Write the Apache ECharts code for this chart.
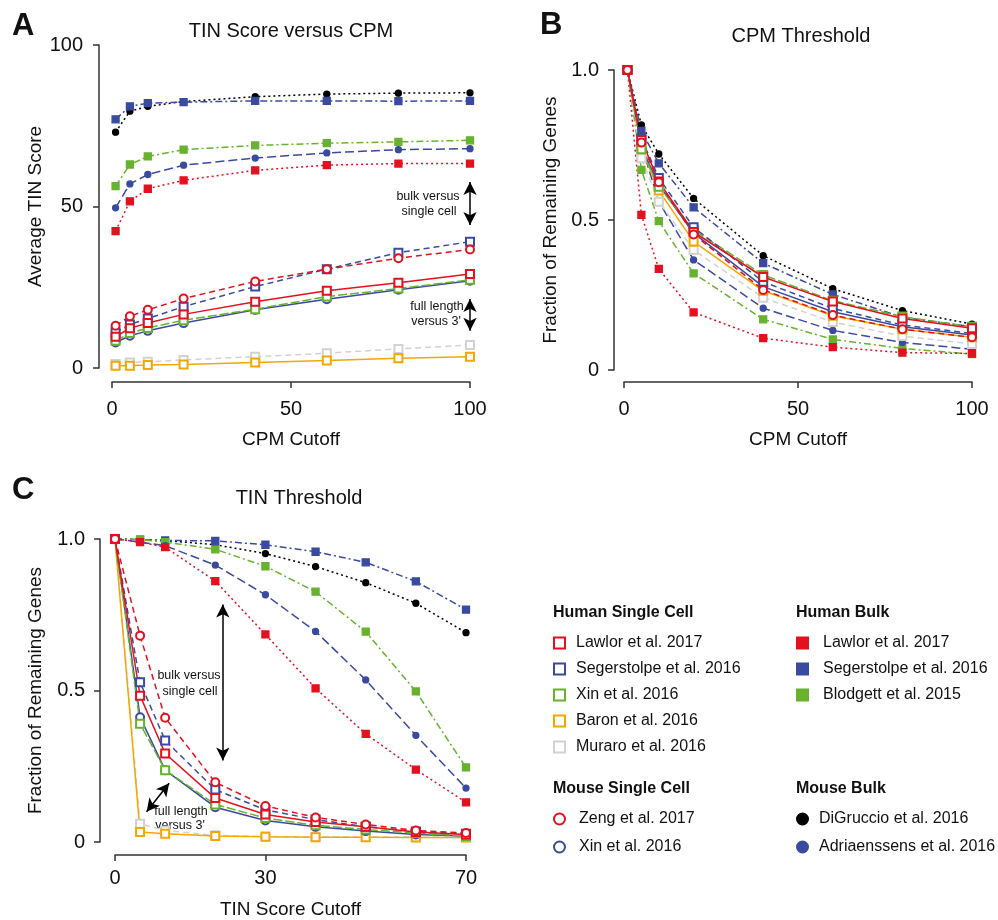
<!DOCTYPE html>
<html><head><meta charset="utf-8">
<script src="https://cdn.jsdelivr.net/npm/echarts@6/dist/echarts.min.js"></script>
<style>html,body{margin:0;padding:0;background:#fff}#chart{width:998px;height:920px}</style>
</head><body><div id="chart"></div>
<script>
// ---------- cutoffs (x values) ----------
const cpmCutoffs = [1, 5, 10, 20, 40, 60, 80, 100];
const tinCutoffs = [0, 5, 10, 20, 30, 40, 50, 60, 70];
const tinTickLabels = [0, 30, 70];

// ---------- Panel A: average TIN score vs CPM cutoff ----------
const avgTinLawlorSC        = [9.7, 12.3, 13.9, 16.6, 20.5, 23.9, 26.4, 29.1];
const avgTinSegerstolpeSC   = [11, 13.5, 15.3, 19, 25.2, 30.6, 35.7, 39.1];
const avgTinXinHumanSC      = [8.4, 10.8, 12.4, 14.8, 18.2, 22.1, 24.6, 27.3];
const avgTinBaronSC         = [0.7, 0.7, 0.9, 1.1, 1.7, 2.3, 3, 3.5];
const avgTinMuraroSC        = [1.2, 1.7, 1.9, 2.5, 3.5, 4.6, 5.9, 7.1];
const avgTinZengSC          = [13.1, 16, 18, 21.5, 26.8, 30.6, 34, 36.7];
const avgTinXinMouseSC      = [7.9, 10, 11.5, 13.9, 18, 21.3, 24.2, 27];
const avgTinLawlorBulk      = [42.4, 51.6, 55.5, 58.1, 61.2, 62.8, 63.3, 63.3];
const avgTinSegerstolpeBulk = [77, 81, 82, 82.3, 82.7, 82.7, 82.6, 82.7];
const avgTinBlodgettBulk    = [56.3, 63, 65.5, 67.6, 68.9, 69.6, 70, 70.5];
const avgTinDiGruccioBulk   = [73, 79.5, 81, 82.5, 84, 84.8, 85.1, 85.2];
const avgTinAdriaenssensBulk= [49.6, 57, 59.9, 62.8, 65, 66.6, 67.6, 67.9];

// ---------- Panel B: fraction of remaining genes vs CPM cutoff ----------
const cpmFracLawlorSC        = [1, 0.767, 0.628, 0.46, 0.31, 0.228, 0.172, 0.139];
const cpmFracSegerstolpeSC   = [1, 0.772, 0.64, 0.476, 0.294, 0.205, 0.15, 0.122];
const cpmFracXinHumanSC      = [1, 0.736, 0.611, 0.467, 0.317, 0.231, 0.178, 0.144];
const cpmFracBaronSC         = [1, 0.739, 0.598, 0.428, 0.264, 0.181, 0.136, 0.109];
const cpmFracMuraroSC        = [1, 0.706, 0.561, 0.4, 0.241, 0.16, 0.113, 0.087];
const cpmFracZengSC          = [1, 0.758, 0.626, 0.452, 0.267, 0.183, 0.136, 0.109];
const cpmFracXinMouseSC      = [1, 0.742, 0.617, 0.456, 0.278, 0.194, 0.144, 0.117];
const cpmFracLawlorBulk      = [1, 0.517, 0.337, 0.192, 0.106, 0.076, 0.058, 0.055];
const cpmFracSegerstolpeBulk = [1, 0.797, 0.689, 0.542, 0.356, 0.252, 0.176, 0.144];
const cpmFracBlodgettBulk    = [1, 0.667, 0.496, 0.322, 0.169, 0.102, 0.072, 0.053];
const cpmFracDiGruccioBulk   = [1, 0.817, 0.72, 0.572, 0.381, 0.271, 0.198, 0.153];
const cpmFracAdriaenssensBulk= [1, 0.75, 0.561, 0.367, 0.206, 0.132, 0.092, 0.069];

// ---------- Panel C: fraction of remaining genes vs TIN cutoff ----------
const tinFracLawlorSC        = [1, 0.483, 0.292, 0.145, 0.091, 0.066, 0.05, 0.033, 0.025];
const tinFracSegerstolpeSC   = [1, 0.527, 0.335, 0.173, 0.106, 0.074, 0.05, 0.035, 0.027];
const tinFracXinHumanSC      = [1, 0.39, 0.237, 0.124, 0.079, 0.055, 0.041, 0.03, 0.02];
const tinFracBaronSC         = [1, 0.033, 0.027, 0.02, 0.017, 0.016, 0.016, 0.015, 0.015];
const tinFracMuraroSC        = [1, 0.06, 0.038, 0.022, 0.018, 0.017, 0.017, 0.016, 0.016];
const tinFracZengSC          = [1, 0.681, 0.41, 0.197, 0.119, 0.081, 0.058, 0.038, 0.03];
const tinFracXinMouseSC      = [1, 0.412, 0.237, 0.115, 0.071, 0.05, 0.036, 0.025, 0.02];
const tinFracLawlorBulk      = [1, 0.99, 0.973, 0.861, 0.685, 0.507, 0.357, 0.239, 0.131];
const tinFracSegerstolpeBulk = [1, 0.998, 0.995, 0.994, 0.981, 0.958, 0.923, 0.86, 0.767];
const tinFracBlodgettBulk    = [1, 0.998, 0.99, 0.966, 0.91, 0.826, 0.694, 0.497, 0.246];
const tinFracDiGruccioBulk   = [1, 0.998, 0.995, 0.981, 0.952, 0.909, 0.856, 0.788, 0.691];
const tinFracAdriaenssensBulk= [1, 0.99, 0.978, 0.914, 0.816, 0.695, 0.535, 0.352, 0.178];

// ---------- legend groups ----------
const legendHumanSC   = ['Lawlor et al. 2017', 'Segerstolpe et al. 2016', 'Xin et al. 2016', 'Baron et al. 2016', 'Muraro et al. 2016'];
const legendHumanBulk = ['Lawlor et al. 2017', 'Segerstolpe et al. 2016', 'Blodgett et al. 2015'];
const legendMouseSC   = ['Zeng et al. 2017', 'Xin et al. 2016'];
const legendMouseBulk = ['DiGruccio et al. 2016', 'Adriaenssens et al. 2016'];
const keysHumanSC   = ['LawlorSC', 'SegerstolpeSC', 'XinHumanSC', 'BaronSC', 'MuraroSC'];
const keysHumanBulk = ['LawlorBulk', 'SegerstolpeBulk', 'BlodgettBulk'];
const keysMouseSC   = ['ZengSC', 'XinMouseSC'];
const keysMouseBulk = ['DiGruccioBulk', 'AdriaenssensBulk'];

// ---------- styles ----------
const RED = '#e3101e', BLUE = '#3a4a9f', GREEN = '#67b22f', ORANGE = '#f5a700', GREY = '#d2d2d2', BLACK = '#000000';
const FONT = 'Liberation Sans, Arial, Helvetica, sans-serif';
const DOT = [2, 3], DASHDOT = [7, 3, 2, 3], LONGDASH = [9, 4], DASH = [6, 4], MIDDASH = [9, 3];
const seriesStyle = {
  LawlorSC:        {color: RED,    symbol: 'emptyRect',   size: 8, dash: 'solid'},
  SegerstolpeSC:   {color: BLUE,   symbol: 'emptyRect',   size: 8, dash: DASH},
  XinHumanSC:      {color: GREEN,  symbol: 'emptyRect',   size: 8, dash: MIDDASH},
  BaronSC:         {color: ORANGE, symbol: 'emptyRect',   size: 8, dash: 'solid'},
  MuraroSC:        {color: GREY,   symbol: 'emptyRect',   size: 8, dash: DASH},
  ZengSC:          {color: RED,    symbol: 'emptyCircle', size: 8, dash: DASH},
  XinMouseSC:      {color: BLUE,   symbol: 'emptyCircle', size: 8, dash: 'solid'},
  LawlorBulk:      {color: RED,    symbol: 'rect',   size: 7, dash: DOT},
  SegerstolpeBulk: {color: BLUE,   symbol: 'rect',   size: 7, dash: DASHDOT},
  BlodgettBulk:    {color: GREEN,  symbol: 'rect',   size: 7, dash: DASHDOT},
  DiGruccioBulk:   {color: BLACK,  symbol: 'circle', size: 6, dash: DOT},
  AdriaenssensBulk:{color: BLUE,   symbol: 'circle', size: 6, dash: LONGDASH}
};

const panelA = {LawlorSC: avgTinLawlorSC, SegerstolpeSC: avgTinSegerstolpeSC, XinHumanSC: avgTinXinHumanSC, BaronSC: avgTinBaronSC, MuraroSC: avgTinMuraroSC, ZengSC: avgTinZengSC, XinMouseSC: avgTinXinMouseSC, LawlorBulk: avgTinLawlorBulk, SegerstolpeBulk: avgTinSegerstolpeBulk, BlodgettBulk: avgTinBlodgettBulk, DiGruccioBulk: avgTinDiGruccioBulk, AdriaenssensBulk: avgTinAdriaenssensBulk};
const panelB = {LawlorSC: cpmFracLawlorSC, SegerstolpeSC: cpmFracSegerstolpeSC, XinHumanSC: cpmFracXinHumanSC, BaronSC: cpmFracBaronSC, MuraroSC: cpmFracMuraroSC, ZengSC: cpmFracZengSC, XinMouseSC: cpmFracXinMouseSC, LawlorBulk: cpmFracLawlorBulk, SegerstolpeBulk: cpmFracSegerstolpeBulk, BlodgettBulk: cpmFracBlodgettBulk, DiGruccioBulk: cpmFracDiGruccioBulk, AdriaenssensBulk: cpmFracAdriaenssensBulk};
const panelC = {LawlorSC: tinFracLawlorSC, SegerstolpeSC: tinFracSegerstolpeSC, XinHumanSC: tinFracXinHumanSC, BaronSC: tinFracBaronSC, MuraroSC: tinFracMuraroSC, ZengSC: tinFracZengSC, XinMouseSC: tinFracXinMouseSC, LawlorBulk: tinFracLawlorBulk, SegerstolpeBulk: tinFracSegerstolpeBulk, BlodgettBulk: tinFracBlodgettBulk, DiGruccioBulk: tinFracDiGruccioBulk, AdriaenssensBulk: tinFracAdriaenssensBulk};

// series names must be unique: "label|key"; legend formatter shows the label only
const seriesName = {};
[[keysHumanSC, legendHumanSC], [keysHumanBulk, legendHumanBulk], [keysMouseSC, legendMouseSC], [keysMouseBulk, legendMouseBulk]]
  .forEach(([keys, labels]) => keys.forEach((k, i) => { seriesName[k] = labels[i] + '|' + k; }));

const drawOrder = ['DiGruccioBulk', 'SegerstolpeBulk', 'BlodgettBulk', 'AdriaenssensBulk', 'LawlorBulk',
  'MuraroSC', 'BaronSC', 'XinMouseSC', 'XinHumanSC', 'SegerstolpeSC', 'LawlorSC', 'ZengSC'];

const series = [];
[[panelA, cpmCutoffs], [panelB, cpmCutoffs], [panelC, tinCutoffs]].forEach(([panel, xs], p) => {
  drawOrder.forEach(k => {
    const st = seriesStyle[k];
    series.push({
      type: 'line', name: seriesName[k], xAxisIndex: p, yAxisIndex: p,
      data: xs.map((x, j) => [x, panel[k][j]]),
      symbol: st.symbol, symbolSize: st.size, showAllSymbol: true, clip: false,
      lineStyle: {color: st.color, width: 1.5, type: st.dash},
      itemStyle: {color: st.color, borderColor: st.color, borderWidth: 1.3},
      emphasis: {disabled: true}, animation: false
    });
  });
});

// annotation arrows (data coordinates)
const arrowStyle = {silent: true, symbol: ['arrow', 'arrow'], symbolSize: [10, 13],
  lineStyle: {color: '#000', width: 1.5, type: 'solid'}, label: {show: false}, emphasis: {disabled: true}};
series.push({type: 'line', name: 'annotA', xAxisIndex: 0, yAxisIndex: 0, data: [], animation: false,
  markLine: Object.assign({}, arrowStyle, {data: [
    [{coord: [100, 57.6]}, {coord: [100, 44.3]}],
    [{coord: [100, 21.4]}, {coord: [100, 11.5]}]
  ]})});
series.push({type: 'line', name: 'annotC', xAxisIndex: 2, yAxisIndex: 2, data: [], animation: false,
  markLine: Object.assign({}, arrowStyle, {data: [
    [{coord: [21.5, 0.784]}, {coord: [21.5, 0.269]}],
    [{coord: [6.3, 0.1]}, {coord: [10.8, 0.194]}]
  ]})});

function axisBase(extra) {
  return Object.assign({
    type: 'value', splitLine: {show: false},
    axisLine: {show: true, onZero: false, lineStyle: {color: '#333', width: 1.5}},
    axisTick: {show: true, length: 6, lineStyle: {color: '#333', width: 1.5}},
    axisLabel: {fontSize: 20, color: '#111', fontFamily: FONT},
    nameLocation: 'middle',
    nameTextStyle: {fontSize: 19, color: '#111', fontFamily: FONT}
  }, extra);
}
const fracFmt = v => v === 0 ? '0' : v.toFixed(1);

const legendDefs = [
  {labels: legendHumanSC, keys: keysHumanSC, icon: 'emptyRect', left: 553, top: 635, gap: 10, pad: 6},
  {labels: legendHumanBulk, keys: keysHumanBulk, icon: 'rect', left: 796, top: 635, gap: 10, pad: 10},
  {labels: legendMouseSC, keys: keysMouseSC, icon: 'emptyCircle', left: 553, top: 811, gap: 12, pad: 9},
  {labels: legendMouseBulk, keys: keysMouseBulk, icon: 'circle', left: 796, top: 811, gap: 12, pad: 6}
];
const legends = legendDefs.map(d => ({
  orient: 'vertical', left: d.left, top: d.top, padding: 0, itemGap: d.gap,
  itemWidth: 11, itemHeight: 11, selectedMode: false,
  data: d.keys.map(k => ({name: seriesName[k], icon: d.icon})),
  formatter: n => n.split('|')[0],
  textStyle: {fontSize: 16, lineHeight: 16, color: '#111', fontFamily: FONT, padding: [0, 0, 0, d.pad]}
}));

function txt(x, y, text, size, weight, align) {
  return {type: 'text', x: x, y: y, silent: true,
    style: {text: text, fontSize: size, fontWeight: weight || 'normal', fontFamily: FONT, fill: '#111',
      align: align || 'center', verticalAlign: 'middle'}};
}
const graphics = [
  txt(12, 26, 'A', 31, 'bold', 'left'),
  txt(540, 25, 'B', 31, 'bold', 'left'),
  txt(12, 490, 'C', 31, 'bold', 'left'),
  txt(291, 31, 'TIN Score versus CPM', 20),
  txt(801, 36, 'CPM Threshold', 20),
  txt(299, 498, 'TIN Threshold', 20),
  txt(428, 197, 'bulk versus', 12.5),
  txt(429, 212, 'single cell', 12.5),
  txt(437, 307, 'full length', 12.5),
  txt(436, 322, "versus 3'", 12.5),
  txt(189, 676, 'bulk versus', 12.5),
  txt(190, 692, 'single cell', 12.5),
  txt(181, 812, 'full length', 12.5),
  txt(180, 826, "versus 3'", 12.5),
  txt(553, 613, 'Human Single Cell', 16, 'bold', 'left'),
  txt(796, 613, 'Human Bulk', 16, 'bold', 'left'),
  txt(553, 789, 'Mouse Single Cell', 16, 'bold', 'left'),
  txt(796, 789, 'Mouse Bulk', 16, 'bold', 'left')
];

const option = {
  backgroundColor: '#ffffff',
  animation: false,
  textStyle: {fontFamily: FONT},
  grid: [
    {left: 112, top: 45, width: 358, height: 323, containLabel: false},
    {left: 624, top: 70, width: 348, height: 300, containLabel: false},
    {left: 115, top: 539, width: 351, height: 305, containLabel: false}
  ],
  xAxis: [
    axisBase({gridIndex: 0, min: 0, max: 100, interval: 50, offset: 14, name: 'CPM Cutoff', nameGap: 48,
      axisLabel: {fontSize: 20, color: '#111', fontFamily: FONT, margin: 17}}),
    axisBase({gridIndex: 1, min: 0, max: 100, interval: 50, offset: 12, name: 'CPM Cutoff', nameGap: 48,
      axisLabel: {fontSize: 20, color: '#111', fontFamily: FONT, margin: 17}}),
    axisBase({gridIndex: 2, min: 0, max: 70, interval: 10, offset: 13, name: 'TIN Score Cutoff', nameGap: 45,
      axisTick: {show: true, length: 6, lineStyle: {color: '#333', width: 1.5}, customValues: tinTickLabels},
      axisLabel: {fontSize: 20, color: '#111', fontFamily: FONT, margin: 13, customValues: tinTickLabels}})
  ],
  yAxis: [
    axisBase({gridIndex: 0, min: 0, max: 100, interval: 50, offset: 13, name: 'Average TIN Score', nameGap: 54,
      axisLabel: {fontSize: 20, color: '#111', fontFamily: FONT, margin: 16}}),
    axisBase({gridIndex: 1, min: 0, max: 1, interval: 0.5, offset: 10, name: 'Fraction of Remaining Genes', nameGap: 54,
      axisLabel: {fontSize: 20, color: '#111', fontFamily: FONT, margin: 15, formatter: fracFmt}}),
    axisBase({gridIndex: 2, min: 0, max: 1, interval: 0.5, offset: 15, name: 'Fraction of Remaining Genes', nameGap: 55,
      axisLabel: {fontSize: 20, color: '#111', fontFamily: FONT, margin: 15, formatter: fracFmt}})
  ],
  legend: legends,
  graphic: graphics,
  series: series
};

const chart = echarts.init(document.getElementById('chart'), null, {renderer: 'canvas'});
chart.setOption(option);
</script>
</body></html>
